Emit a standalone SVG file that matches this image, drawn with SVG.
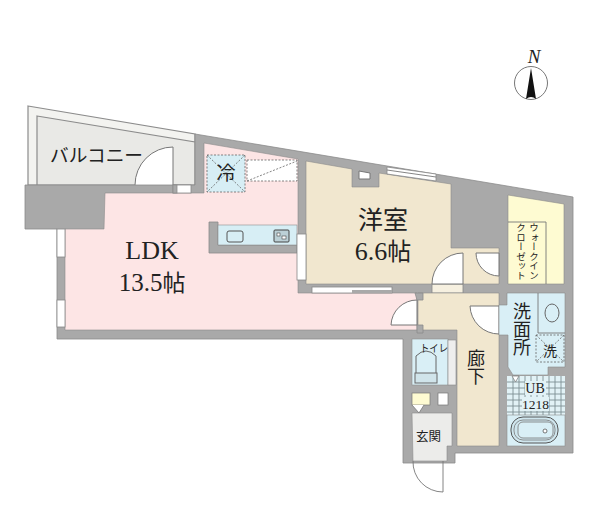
<svg xmlns="http://www.w3.org/2000/svg" width="600" height="518" viewBox="0 0 600 518">
<style>
.w{fill:#a9a9a9;stroke:#8c8c8c;stroke-width:.8}
.f{fill:#fff}
.l{fill:none;stroke:#777;stroke-width:.9}
.ln{fill:none;stroke:#666;stroke-width:1}
.d{fill:#fff;stroke:#888;stroke-width:.9}
.dash{fill:none;stroke:#666;stroke-width:.8;stroke-dasharray:2 1.5}
.j{font-family:"Noto Sans CJK JP","Noto Sans",sans-serif;fill:#222}
.s{font-family:"Liberation Serif","Noto Sans CJK JP",serif;fill:#222}
.v{writing-mode:vertical-rl;text-anchor:start}
</style>
<rect width="600" height="518" fill="#fff"/>
<g id="balcony">
<polygon points="28,106 195,134 195,185 28,185" fill="#f3f3f0" stroke="#8c8c8c" stroke-width="1.2"/>
<polygon points="37,116 195,142 195,185 37,185" fill="#e9e9e6" stroke="#8c8c8c" stroke-width="1.2"/>
<text class="j" x="50" y="162" font-size="18.5" textLength="93" lengthAdjust="spacingAndGlyphs">バルコニー</text>
<path d="M173,185V147A38,38 0 0 0 135,185V188H173Z" class="f" stroke="#777"/>
</g>
<polygon id="walls" class="w" points="195,134 573,197 573,453 455,453 455,463 403,463 403,339 57,339 57,229 25,229 25,185 137,185 191,185 195,185"/>
<g id="ldk">
<polygon points="65,229 104,229 105,193 204,193 204,143 298,159 298,293 417,293 417,330 65,330" fill="#fde5e5" stroke="#8c8c8c" stroke-width=".6"/>
<rect x="173" y="185" width="18" height="8" fill="#fff" stroke="#888" stroke-width=".8"/>
<rect x="173" y="185" width="4" height="8" class="w"/>
<rect x="57" y="229" width="8" height="28" fill="#fff" stroke="#888" stroke-width=".8"/>
<rect x="57" y="300" width="8" height="27" fill="#fff" stroke="#888" stroke-width=".8"/>
<rect x="207" y="155" width="38" height="37" fill="#d7eef5"/>
<rect x="207" y="155" width="38" height="37" class="dash"/>
<path d="M207,155L245,192M245,155L207,192" class="dash"/>
<rect x="247" y="160" width="50" height="21" fill="#fff"/>
<rect x="247" y="160" width="50" height="21" class="dash"/>
<path d="M247,181L297,161" class="dash"/>
<text class="j" x="226" y="180" font-size="19" text-anchor="middle">冷</text>
<path class="w" d="M209,222H218V245H297V253H209Z"/>
<rect x="218" y="225" width="79" height="20" fill="#d7eef5" stroke="#8c8c8c" stroke-width=".6"/>
<rect x="227" y="231" width="16" height="11" rx="2" fill="#d7eef5" stroke="#555" stroke-width="1"/>
<rect x="274" y="230" width="15" height="12" rx="1" fill="#bcd0d6" stroke="#444" stroke-width="1"/>
<rect x="277" y="233" width="3" height="3" fill="#fff" stroke="#444" stroke-width=".6"/>
<rect x="282" y="236" width="4" height="3" fill="#fff" stroke="#444" stroke-width=".6"/>
<text class="s" x="152" y="259" font-size="26" text-anchor="middle">LDK</text>
<text class="s" x="152" y="291" font-size="25" text-anchor="middle">13.5<tspan class="j" font-size="23">帖</tspan></text>
<path d="M417,325V300A26,26 0 0 0 391,325Z" class="f" stroke="#777"/>
</g>
<g id="western">
<polygon points="306,161 352,169 352,187 379,187 379,173 451,184 451,248 499,248 499,284 306,284" fill="#f1e7cf" stroke="#8c8c8c" stroke-width=".6"/>
<polygon points="359,171 370,173 370,179 359,179" fill="#fff" stroke="#777"/>
<polygon points="387,167 436,174 436,181 387,174" fill="#fff" stroke="#888" stroke-width=".8"/>
<path d="M387,170L436,177" class="l"/>
<rect x="297" y="234" width="9" height="46" fill="#fff" stroke="#888" stroke-width=".8"/>
<rect x="312" y="287" width="80" height="6" fill="#fff" stroke="#888" stroke-width=".8"/>
<rect x="352" y="290" width="40" height="3" fill="#a9a9a9"/>
<rect x="432" y="284" width="31" height="9" fill="#f6f0e0" stroke="#888" stroke-width=".8"/>
<path d="M463,284V253A31,31 0 0 0 432,284Z" class="f" stroke="#777"/>
<path d="M476,253A23,23 0 0 0 499,276V253Z" class="f" stroke="#777"/>
<text class="j" x="383" y="229" font-size="25" text-anchor="middle">洋室</text>
<text class="s" x="383" y="260" font-size="26" text-anchor="middle">6.6<tspan class="j" font-size="24">帖</tspan></text>
</g>
<g id="closet">
<polygon points="508,195 564,204 564,284 508,284" fill="#fefbd2" stroke="#8c8c8c" stroke-width=".6"/>
<path d="M508,222H546V284" class="l"/>
<text class="j v" x="534" y="223" font-size="9.5">ウォークイン</text>
<text class="j v" x="521" y="223" font-size="9.5">クローゼット</text>
</g>
<g id="corridor">
<polygon points="418,293 499,293 499,446 457,446 457,330 418,330" fill="#f1e7cf" stroke="#8c8c8c" stroke-width=".6"/>
<path class="w" d="M415,293H423V300H417ZM417,325H423V333H417Z"/>
<path d="M470,306H499V334A29,29 0 0 1 470,306Z" class="f" stroke="#777"/>
<text class="j v" x="476" y="349" font-size="18">廊下</text>
</g>
<g id="washroom">
<polygon points="507,293 565,293 565,367 548,367 548,375 513,375 508,367 508,335 499,335 499,305 507,305" fill="#d9eff6" stroke="#8c8c8c" stroke-width=".6"/>
<path d="M538,293V333H565" class="l"/>
<ellipse cx="552" cy="313" rx="7" ry="9" fill="#d9eff6" stroke="#666"/>
<rect x="536" y="335" width="28" height="27" class="dash"/>
<path d="M536,335L564,362M564,335L536,362" class="dash"/>
<text class="j v" x="522" y="302" font-size="18">洗面所</text>
<text class="j" x="550" y="356" font-size="14" text-anchor="middle">洗</text>
</g>
<g id="bath">
<rect x="507" y="376" width="58" height="39" fill="#e2f2f6"/>
<path d="M507,382H565M507,388H565M507,394H565M507,400H565M507,406H565M507,412H565M513,376V415M519,376V415M525,376V415M531,376V415M537,376V415M543,376V415M549,376V415M555,376V415M561,376V415" stroke="#7d8e93" stroke-width=".9" fill="none"/>
<rect x="525" y="381" width="21" height="14" fill="#e2f2f6"/>
<rect x="522" y="397" width="27" height="14" fill="#e2f2f6"/>
<polygon points="512,376 519,376 515.500,382" fill="#fff" stroke="#777" stroke-width=".7"/>
<rect x="507" y="415" width="58" height="31" fill="#d9eff6" stroke="#8c8c8c" stroke-width=".6"/>
<rect x="511" y="417" width="47" height="26" rx="12" fill="#cfe6ee" stroke="#555"/>
<rect x="514" y="420" width="41" height="20" rx="9" fill="#cfe6ee" stroke="#777" stroke-width=".8"/>
<rect x="518" y="422" width="35" height="16" rx="5" fill="#d9eff6" stroke="#777" stroke-width=".8"/>
<circle cx="545" cy="431" r="2" fill="#fff" stroke="#555" stroke-width=".8"/>
<text class="s" x="535" y="393" font-size="14" text-anchor="middle">UB</text>
<text class="s" x="535.500" y="409" font-size="13.500" text-anchor="middle">1218</text>
</g>
<g id="toilet">
<rect x="412" y="339" width="36" height="46" fill="#d9eff6" stroke="#8c8c8c" stroke-width=".6"/>
<rect x="448" y="340" width="8" height="45" fill="#eee" stroke="#888" stroke-width=".6"/>
<path d="M416,374V356Q426,346 436,356V374Z" fill="#d9eff6" stroke="#666"/>
<rect x="415" y="373" width="22" height="10" fill="#d0e4ea" stroke="#666"/>
<text class="j" x="420" y="352" font-size="10.500" textLength="28" lengthAdjust="spacingAndGlyphs">トイレ</text>
</g>
<g id="entrance">
<rect x="412" y="393" width="18" height="12" fill="#fefbd2" stroke="#777" stroke-width=".7"/>
<path d="M412,405L419,413L424,405" fill="#fff" stroke="#777" stroke-width=".8"/>
<rect x="438" y="393" width="10" height="12" fill="#fff" stroke="#777" stroke-width=".7"/>
<polygon points="412,413 452,413 452,446 447,446 447,461 413,461" fill="#ececea" stroke="#8c8c8c" stroke-width=".6"/>
<text class="j" x="428.500" y="441" font-size="12.500" text-anchor="middle">玄関</text>
<path d="M443,461V492A30,30 0 0 1 413,461" class="l"/>
</g>
<g id="north">
<circle cx="531" cy="83" r="16.500" fill="#fff" stroke="#777"/>
<path d="M531,68L536,99Q531,95 526,99Z" fill="#111"/>
<text x="534" y="63" font-family="Liberation Serif,serif" font-style="italic" font-size="19" text-anchor="middle" fill="#222">N</text>
</g>
</svg>
